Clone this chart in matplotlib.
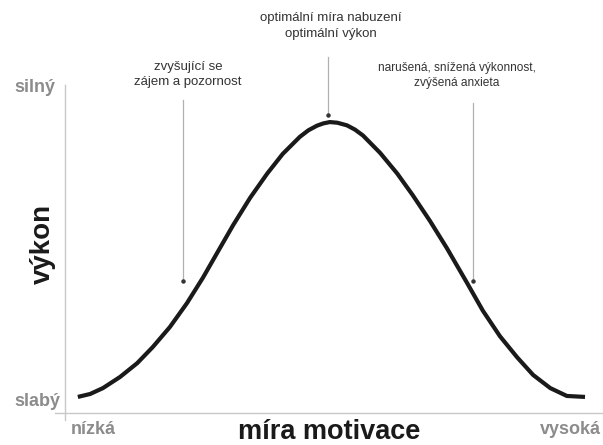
import numpy as np
import matplotlib
matplotlib.use('Agg')
import matplotlib.pyplot as plt

plt.rcParams['font.family'] = ['Liberation Sans', 'DejaVu Sans']

# curve (motivation 0-100, performance 0-100)
motivace = [2.4, 4.7, 7.1, 10.3, 13.5, 16.4, 19.6, 22.8, 25.8, 28.4, 31.4, 34.6,
            37.8, 40.7, 43.9, 45.5, 47.1, 48.3, 49.5, 50.9, 52.7, 54.2, 55.7,
            58.9, 62.1, 65.0, 68.2, 71.4, 75.1, 78.1, 81.3, 84.5, 87.5, 90.7,
            93.8, 97.2]
vykon = [4.9, 5.8, 7.6, 11.0, 15.2, 20.1, 26.2, 33.5, 41.3, 48.7, 57.2, 65.6,
         73.0, 79.0, 84.2, 86.2, 87.6, 88.3, 88.7, 88.5, 87.7, 86.4, 84.6,
         79.3, 73.0, 66.4, 58.6, 50.2, 39.8, 31.2, 23.4, 17.0, 11.6, 7.6,
         5.2, 4.9]

# annotated points on the curve
anot_x = [22.1, 49.2, 76.3]
anot_y = [40.2, 90.9, 40.2]
anot_top = [95.4, 108.5, 94.5]

W, H = 603, 445
fig = plt.figure(figsize=(W / 100, H / 100), dpi=100)
ax = fig.add_axes([65 / W, 1 - 413 / H, 535 / W, 328 / H])
ax.set_xlim(0, 100)
ax.set_ylim(0, 100)
ax.axis('off')

axis_col = '#c8c8c8'
ax.plot([0, 0], [-2.1, 100], color=axis_col, lw=1, clip_on=False)
ax.plot([-1.9, 100.6], [0, 0], color=axis_col, lw=1, clip_on=False)

ax.plot(motivace, vykon, color='#1a1a1a', lw=3, solid_capstyle='butt',
        solid_joinstyle='round')

for x, y, t in zip(anot_x, anot_y, anot_top):
    ax.plot([x, x], [y, t], color='#b0b0b0', lw=0.9, clip_on=False)
    ax.plot(x, y, 'o', color='#333333', ms=2.2, clip_on=False)


def ftext(px, py, s, **kw):
    fig.text(px / W, 1 - py / H, s, **kw)


ann = dict(color='#333333', ha='center', va='center')
ftext(331, 18, 'optimální míra nabuzení', fontsize=9.5, **ann)
ftext(331, 34, 'optimální výkon', fontsize=9.5, **ann)
ftext(188, 67, 'zvyšující se', fontsize=9.5, **ann)
ftext(188, 82, 'zájem a pozornost', fontsize=9.5, **ann)
ftext(457, 68, 'narušená, snížená výkonnost,', fontsize=8.6, **ann)
ftext(457, 83, 'zvýšená anxieta', fontsize=8.6, **ann)

lab = dict(fontsize=13, color='#8c8c8c', fontweight='bold', va='center')
ftext(55, 88, 'silný', ha='right', **lab)
ftext(60, 401, 'slabý', ha='right', **lab)
ftext(71, 429, 'nízká', ha='left', **lab)
ftext(601, 429, 'vysoká', ha='right', **lab)

ftext(329, 439, 'míra motivace', fontsize=19.5, fontweight='bold',
      color='#1a1a1a', ha='center', va='baseline')
ftext(43, 244, 'výkon', fontsize=20, fontweight='bold', color='#1a1a1a',
      ha='center', va='center', rotation=90)

fig.savefig('out.png', dpi=100)
